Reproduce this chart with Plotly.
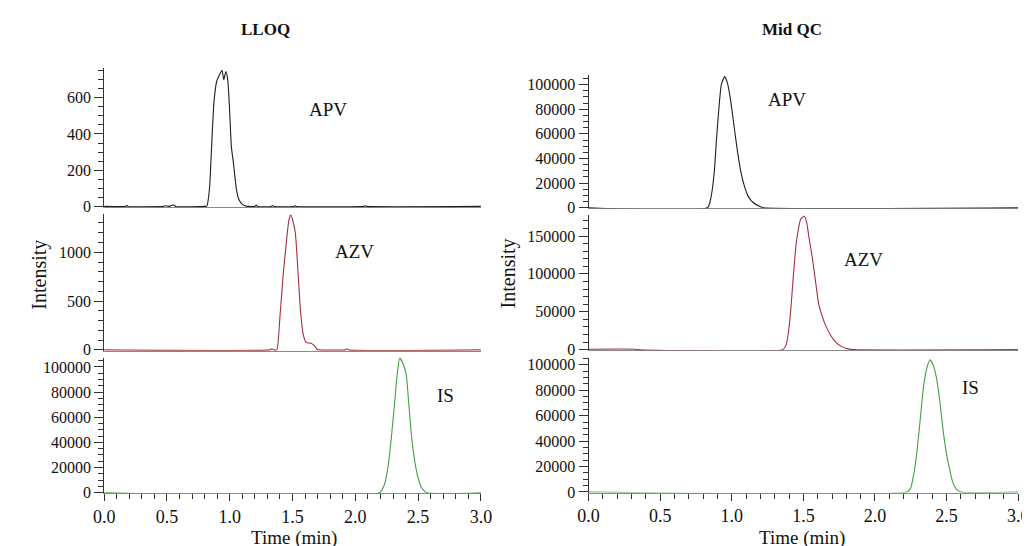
import plotly.graph_objects as go

# ---------------- data (time in min, intensity) ----------------
lloq_apv_t = [0.0, 0.17, 0.18, 0.19, 0.47, 0.49, 0.51, 0.53, 0.55, 0.57, 0.80, 0.818, 0.839, 0.857,
              0.875, 0.896, 0.914, 0.938, 0.953, 0.969, 0.984, 0.997, 1.013, 1.031, 1.052, 1.072,
              1.103, 1.142, 1.2, 1.21, 1.22, 1.33, 1.34, 1.35, 1.51, 1.52, 1.53, 2.07, 2.08, 2.09, 3.0]
lloq_apv_y = [0, 0, 6, 0, 0, 4, 0, 3, 9, 0, 0, 2, 100, 350, 580, 690, 720, 752, 700, 745, 700, 560,
              330, 230, 100, 40, 10, 0, 0, 8, 0, 0, 5, 0, 0, 4, 0, 0, 3, 0, 0]

lloq_azv_t = [0.0, 1.32, 1.336, 1.35, 1.375, 1.401, 1.427, 1.453, 1.471, 1.487, 1.505, 1.523, 1.544,
              1.564, 1.585, 1.608, 1.647, 1.673, 1.699, 1.712, 1.92, 1.932, 1.945, 3.0]
lloq_azv_y = [0, 0, 10, 0, 0, 360, 790, 1130, 1330, 1380, 1310, 1190, 790, 390, 160, 77, 67, 43, 3,
              0, 0, 12, 0, 0]

lloq_is_t = [0.0, 2.193, 2.233, 2.259, 2.286, 2.313, 2.334, 2.353, 2.380, 2.406, 2.425, 2.447, 2.473,
             2.500, 2.527, 2.567, 3.0]
lloq_is_y = [0, 0, 6700, 19700, 43000, 71500, 94800, 107000, 102600, 93500, 71500, 45600, 24900,
             11900, 4100, 0, 0]

mid_apv_t = [0.0, 0.831, 0.854, 0.877, 0.893, 0.911, 0.927, 0.950, 0.968, 0.991, 1.014, 1.037, 1.059,
             1.082, 1.116, 1.151, 1.196, 1.219, 3.0]
mid_apv_y = [0, 0, 8000, 28000, 55000, 82000, 100000, 106500, 102000, 88000, 68000, 48000, 32000,
             20000, 9000, 4000, 1000, 0, 0]

mid_azv_t = [0.0, 0.33, 0.34, 1.356, 1.379, 1.397, 1.413, 1.429, 1.447, 1.466, 1.481, 1.505, 1.523,
             1.539, 1.562, 1.585, 1.607, 1.630, 1.653, 1.687, 1.721, 1.767, 1.813, 1.847, 3.0]
mid_azv_y = [600, 600, 0, 0, 6000, 25000, 55000, 95000, 135000, 160000, 172000, 176500, 168000,
             148000, 122000, 90000, 60000, 45000, 33000, 20000, 11000, 4000, 1000, 0, 0]

mid_is_t = [0.0, 2.224, 2.247, 2.269, 2.292, 2.315, 2.338, 2.361, 2.384, 2.406, 2.429, 2.452, 2.475,
            2.498, 2.521, 2.543, 2.566, 2.6, 3.0]
mid_is_y = [0, 0, 2500, 12800, 30800, 56000, 82000, 97000, 104000, 100000, 90000, 72000, 49000,
            31000, 18000, 7700, 2500, 0, 0]

panel_titles = ["LLOQ", "Mid QC"]
analytes = ["APV", "AZV", "IS"]
x_ticks = [0.0, 0.5, 1.0, 1.5, 2.0, 2.5, 3.0]
x_ticklabels = ["0.0", "0.5", "1.0", "1.5", "2.0", "2.5", "3.0"]

# ---------------- layout helpers ----------------
W, H = 1030, 546
FONT = "Liberation Serif"
colors = ["#1e1e1e", "#a3303d", "#42a042"]


def fx(p):
    return p / W


def fy(p):
    return 1 - p / H


# column x pixel spans: (x at t=0, x at t=3)
cols = [(87, 472), (582, 1021)]
# rows: (pixel of top, pixel of bottom), y range, major dtick, minor dtick
rows = [
    [((59, 201), (-5, 765), 200, 50), ((208, 347), (-8, 1390), 500, 100), ((354, 492.5), (-600, 107500), 20000, 5000)],
    [((66, 202), (-500, 108000), 20000, 5000), ((209, 346.6), (-800, 177500), 50000, 10000), ((355, 491.6), (-500, 105000), 20000, 5000)],
]
data = [
    [(lloq_apv_t, lloq_apv_y), (lloq_azv_t, lloq_azv_y), (lloq_is_t, lloq_is_y)],
    [(mid_apv_t, mid_apv_y), (mid_azv_t, mid_azv_y), (mid_is_t, mid_is_y)],
]

fig = go.Figure()
layout = {}
n = 0
for c in range(2):
    for r in range(3):
        n += 1
        xa = "x" if n == 1 else f"x{n}"
        ya = "y" if n == 1 else f"y{n}"
        t, y = data[c][r]
        fig.add_trace(go.Scatter(
            x=t, y=y, mode="lines", xaxis=xa, yaxis=ya,
            line=dict(color=colors[r], width=1.1, shape="spline", smoothing=0.5),
            showlegend=False, hoverinfo="skip"))
        (ptop, pbot), yr, dt, mdt = rows[c][r]
        bottom = (r == 2)
        xkey = "xaxis" if n == 1 else f"xaxis{n}"
        ykey = "yaxis" if n == 1 else f"yaxis{n}"
        layout[xkey] = dict(
            domain=[fx(cols[c][0]), fx(cols[c][1])], range=[0, 3.0], anchor=ya,
            showgrid=False, zeroline=False, showline=True, linecolor="#8a8a8a", linewidth=1,
            layer="below traces",
            ticks="outside" if bottom else "", ticklen=7, tickcolor="#333", tickwidth=1,
            tickvals=x_ticks, ticktext=x_ticklabels, showticklabels=bottom,
            tickfont=dict(family=FONT, size=18, color="#111"),
            minor=dict(dtick=0.1, ticks="outside" if bottom else "", ticklen=5,
                       tickcolor="#333", showgrid=False),
        )
        layout[ykey] = dict(
            domain=[fy(pbot), fy(ptop)], range=list(yr), anchor=xa,
            showgrid=False, zeroline=False, showline=True, linecolor="#333", linewidth=1,
            ticks="outside", ticklen=9, tickcolor="#333", tickwidth=1,
            tick0=0, dtick=dt, tickformat="d",
            tickfont=dict(family=FONT, size=16, color="#111"),
            minor=dict(tick0=0, dtick=mdt, ticks="outside", ticklen=5, tickcolor="#333", showgrid=False),
        )

annotations = []


def ann(text, x, y, size, bold=False, angle=0):
    annotations.append(dict(
        text=f"<b>{text}</b>" if bold else text, x=fx(x), y=fy(y), xref="paper", yref="paper",
        showarrow=False, xanchor="center", yanchor="middle", textangle=angle,
        font=dict(family=FONT, size=size, color="#111")))


ann(panel_titles[0], 252, 20, 17, bold=True)
ann(panel_titles[1], 790, 20, 17, bold=True)
ann("Intensity", 20, 270, 20, angle=-90)
ann("Intensity", 500, 268, 20, angle=-90)
ann("Time (min)", 281, 538, 19)
ann("Time (min)", 800, 538, 19)
label_pos = [[(316, 101), (343, 246), (436, 393)], [(785, 91), (863, 254), (972, 385)]]
for c in range(2):
    for r in range(3):
        ann(analytes[r], label_pos[c][r][0], label_pos[c][r][1], 19)

fig.update_layout(
    width=W, height=H, margin=dict(l=0, r=0, t=0, b=0),
    paper_bgcolor="white", plot_bgcolor="white",
    font=dict(family=FONT, color="#111"),
    annotations=annotations, **layout)

fig.write_html("out.html")
